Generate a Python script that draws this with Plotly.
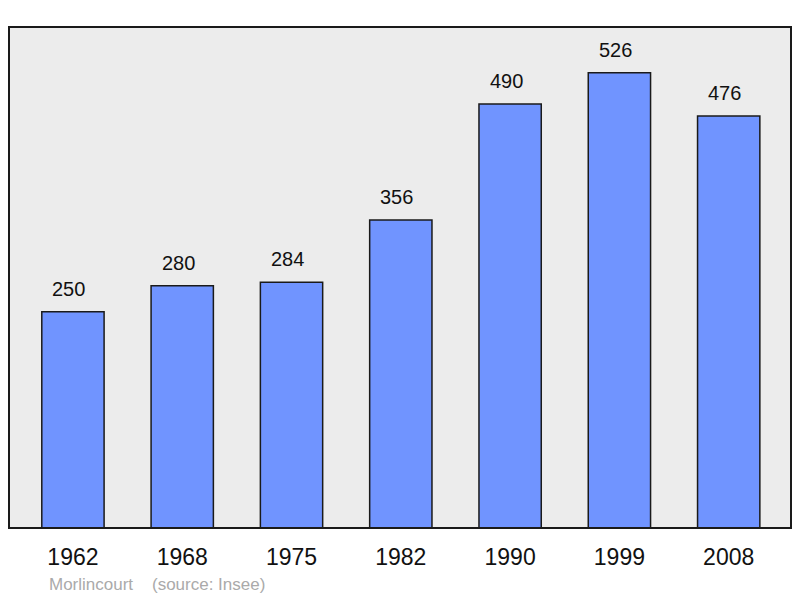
import plotly.graph_objects as go

years = ["1962", "1968", "1975", "1982", "1990", "1999", "2008"]
population = [250, 280, 284, 356, 490, 526, 476]
positions = list(range(len(years)))

FONT = "Liberation Sans, Arial, sans-serif"

fig = go.Figure()
fig.add_trace(go.Bar(
    x=positions, y=population, width=0.57,
    marker=dict(color="#7094ff", line=dict(color="#1a1a1a", width=1.5)),
    hoverinfo="x+y",
))

annotations = [dict(x=p, y=v, text=str(v), xref="x", yref="y", showarrow=False,
                    yanchor="bottom", yshift=10, xshift=-4,
                    font=dict(size=20, color="#111111", family=FONT))
               for p, v in zip(positions, population)]
annotations.append(dict(text="Morlincourt    (source: Insee)", xref="paper", yref="paper",
                        x=(47 - 9) / 782, y=-(584 - 528) / 501, xanchor="left", yanchor="middle",
                        showarrow=False, font=dict(size=17, color="#aaaaaa", family=FONT)))

# page body has an 8px default margin; figure is sized/margined to compensate
fig.update_layout(
    width=792, height=590,
    margin=dict(l=1, r=9, t=19, b=70),
    paper_bgcolor="white", plot_bgcolor="#ececec",
    showlegend=False,
    font=dict(family=FONT),
    xaxis=dict(range=[-0.585, 6.57], tickmode="array", tickvals=positions, ticktext=years,
               showgrid=False, zeroline=False, ticks="outside", ticklen=8,
               tickcolor="rgba(0,0,0,0)", tickfont=dict(size=23, color="#111111")),
    yaxis=dict(range=[0, 579], showgrid=False, zeroline=False, showticklabels=False),
    shapes=[dict(type="rect", xref="paper", yref="paper", x0=0, x1=1, y0=0, y1=1,
                 line=dict(color="#1a1a1a", width=2))],
    annotations=annotations,
)

fig.write_html("out.html")
